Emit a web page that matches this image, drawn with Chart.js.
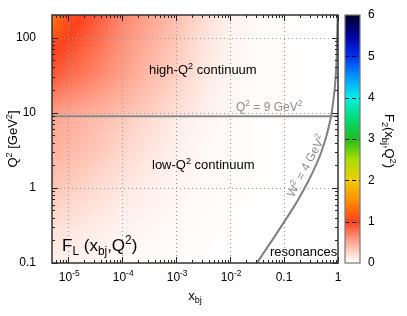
<!DOCTYPE html>
<html><head><meta charset="utf-8">
<script src="https://cdn.jsdelivr.net/npm/chart.js@4/dist/chart.umd.min.js"></script>
<style>html,body{margin:0;padding:0;background:#fff}#c{display:block}</style>
</head><body>
<canvas id="c" width="407" height="316"></canvas>
<script>
// ---- data ----
const xNodesLog = [-5.3, -5, -4.5, -4, -3.5, -3, -2.5, -2, -1.5, -1, -0.5, 0];
const q2NodesLog = [-1, -0.5, 0, 0.5, 0.954, 1, 1.5, 2, 2.3];
const flQ2_0p1  = [0.08, 0.07, 0.05, 0.03, 0.02, 0.01, 0.01, 0.00, 0, 0, 0, 0];
const flQ2_0p32 = [0.20, 0.17, 0.12, 0.08, 0.05, 0.03, 0.02, 0.01, 0, 0, 0, 0];
const flQ2_1    = [0.35, 0.30, 0.22, 0.15, 0.10, 0.06, 0.03, 0.02, 0.01, 0, 0, 0];
const flQ2_3p2  = [0.45, 0.42, 0.34, 0.25, 0.16, 0.09, 0.04, 0.02, 0.01, 0, 0, 0];
const flQ2_9    = [0.52, 0.48, 0.40, 0.32, 0.22, 0.12, 0.06, 0.03, 0.01, 0.01, 0, 0];
const flQ2_10   = [0.56, 0.52, 0.46, 0.38, 0.30, 0.20, 0.10, 0.04, 0.02, 0.01, 0, 0];
const flQ2_32   = [0.90, 0.80, 0.68, 0.54, 0.40, 0.28, 0.14, 0.05, 0.02, 0.01, 0, 0];
const flQ2_100  = [1.10, 1.00, 0.82, 0.62, 0.48, 0.34, 0.18, 0.07, 0.02, 0.01, 0, 0];
const flQ2_200  = [1.40, 1.10, 0.90, 0.68, 0.52, 0.38, 0.22, 0.08, 0.03, 0.01, 0, 0];
const flRows = [flQ2_0p1, flQ2_0p32, flQ2_1, flQ2_3p2, flQ2_9, flQ2_10, flQ2_32, flQ2_100, flQ2_200];

const xTickValues = [1e-5, 1e-4, 1e-3, 1e-2, 0.1, 1];
const xTickBase   = ['10', '10', '10', '10', '0.1', '1'];
const xTickExp    = ['-5', '-4', '-3', '-2', '', ''];
const yTickValues = [0.1, 1, 10, 100];
const yTickLabels = ['0.1', '1', '10', '100'];
const cbTickValues = [0, 1, 2, 3, 4, 5, 6];

const q2LineX = [5.01e-6, 1];
const q2LineY = [9, 9];
const w2CurveX = [0.0313, 0.04, 0.06, 0.1, 0.15, 0.2, 0.3, 0.4, 0.5, 0.6, 0.7, 0.8, 0.9, 0.95, 0.985];
const w2CurveY = [0.1, 0.13, 0.2, 0.35, 0.55, 0.78, 1.34, 2.08, 3.12, 4.7, 7.3, 12.5, 28, 59, 200];

// ---- helpers ----
const FONT = '"Liberation Sans", Arial, Helvetica, sans-serif';
const cmapStops = [
  [0, [255,255,255]], [0.25, [255,214,202]], [0.5, [255,168,148]], [0.75, [255,118,88]],
  [1, [255,66,30]], [1.5, [255,140,0]], [2, [240,205,0]], [2.5, [170,222,0]],
  [3, [30,190,30]], [3.5, [0,220,120]], [4, [0,240,230]], [4.5, [0,150,255]],
  [5, [0,50,240]], [5.5, [0,0,160]], [6, [0,0,40]]
];
function cmap(v){
  if (v <= 0) return cmapStops[0][1];
  for (let i = 0; i < cmapStops.length - 1; i++){
    const a = cmapStops[i], b = cmapStops[i+1];
    if (v <= b[0]){
      const t = (v - a[0]) / (b[0] - a[0]);
      return [0,1,2].map(k => a[1][k] + t*(b[1][k]-a[1][k]));
    }
  }
  return cmapStops[cmapStops.length-1][1];
}
function findIdx(arr, v){
  if (v <= arr[0]) return [0, 0];
  if (v >= arr[arr.length-1]) return [arr.length-2, 1];
  for (let i = 0; i < arr.length-1; i++){
    if (v <= arr[i+1]) return [i, (v-arr[i])/(arr[i+1]-arr[i])];
  }
}
function fieldAt(lx, lq){
  const [i, tx] = findIdx(xNodesLog, lx);
  const [j, tq] = findIdx(q2NodesLog, lq);
  const a = flRows[j][i], b = flRows[j][i+1], c = flRows[j+1][i], d = flRows[j+1][i+1];
  return (a*(1-tx)+b*tx)*(1-tq) + (c*(1-tx)+d*tx)*tq;
}
function richWidth(ctx, segs, size){
  let w = 0;
  for (const s of segs){
    const fs = s.s ? size*0.7 : size;
    ctx.font = fs + 'px ' + FONT;
    w += ctx.measureText(s.t).width;
  }
  return w;
}
function drawRich(ctx, segs, x, y, size, color, align){
  const w = richWidth(ctx, segs, size);
  let cx = align === 'center' ? x - w/2 : (align === 'right' ? x - w : x);
  ctx.fillStyle = color;
  ctx.textBaseline = 'alphabetic';
  ctx.textAlign = 'left';
  for (const s of segs){
    const fs = s.s ? size*0.7 : size;
    ctx.font = fs + 'px ' + FONT;
    const dy = s.s === 'sup' ? -size*0.42 : (s.s === 'sub' ? size*0.25 : 0);
    ctx.fillText(s.t, cx, y + dy);
    cx += ctx.measureText(s.t).width;
  }
}

const heatmapPlugin = {
  id: 'heatmap',
  beforeDatasetsDraw(chart){
    const ctx = chart.ctx, xs = chart.scales.x, ys = chart.scales.y;
    const L = Math.round(chart.chartArea.left), T = Math.round(chart.chartArea.top);
    const R = Math.round(chart.chartArea.right), B = Math.round(chart.chartArea.bottom);
    const w = R - L, h = B - T;
    const img = ctx.createImageData(w, h);
    for (let py = 0; py < h; py++){
      const lq = Math.log10(ys.getValueForPixel(T + py + 0.5));
      for (let px = 0; px < w; px++){
        const lx = Math.log10(xs.getValueForPixel(L + px + 0.5));
        const c = cmap(fieldAt(lx, lq));
        const o = (py*w + px)*4;
        img.data[o] = c[0]; img.data[o+1] = c[1]; img.data[o+2] = c[2]; img.data[o+3] = 255;
      }
    }
    ctx.putImageData(img, L, T);
    ctx.save();
    ctx.strokeStyle = '#9a9a9a'; ctx.lineWidth = 1; ctx.setLineDash([1, 3]);
    for (const v of xTickValues){
      const p = Math.round(xs.getPixelForValue(v)) + 0.5;
      if (p < L + 2 || p > R - 2) continue;
      ctx.beginPath(); ctx.moveTo(p, T); ctx.lineTo(p, B); ctx.stroke();
    }
    for (const v of yTickValues){
      const p = Math.round(ys.getPixelForValue(v)) + 0.5;
      if (p < T + 2 || p > B - 2) continue;
      ctx.beginPath(); ctx.moveTo(L, p); ctx.lineTo(R, p); ctx.stroke();
    }
    ctx.restore();
  },
  afterDatasetsDraw(chart){
    const ctx = chart.ctx, xs = chart.scales.x, ys = chart.scales.y, cb = chart.scales.cb;
    const {left:L, right:R, top:T, bottom:B} = chart.chartArea;
    ctx.save();
    ctx.strokeStyle = '#222'; ctx.lineWidth = 1;
    const xmin = xs.min, xmax = xs.max, ymin = ys.min, ymax = ys.max;
    for (let d = -6; d <= 0; d++){
      for (let m = 1; m <= 9; m++){
        const v = m * Math.pow(10, d);
        if (v < xmin || v > xmax) continue;
        const p = Math.round(xs.getPixelForValue(v)) + 0.5;
        const len = m === 1 ? 6 : 3;
        ctx.beginPath(); ctx.moveTo(p, B); ctx.lineTo(p, B - len); ctx.stroke();
        ctx.beginPath(); ctx.moveTo(p, T); ctx.lineTo(p, T + len); ctx.stroke();
      }
    }
    for (let d = -1; d <= 2; d++){
      for (let m = 1; m <= 9; m++){
        const v = m * Math.pow(10, d);
        if (v < ymin || v > ymax) continue;
        const p = Math.round(ys.getPixelForValue(v)) + 0.5;
        const len = m === 1 ? 6 : 3;
        ctx.beginPath(); ctx.moveTo(L, p); ctx.lineTo(L + len, p); ctx.stroke();
        ctx.beginPath(); ctx.moveTo(R, p); ctx.lineTo(R - len, p); ctx.stroke();
      }
    }
    ctx.strokeStyle = '#333'; ctx.lineWidth = 1.5;
    ctx.strokeRect(L, T, R - L, B - T);

    xTickValues.forEach((v, i) => {
      const p = xs.getPixelForValue(v);
      const segs = [{t: xTickBase[i]}];
      if (xTickExp[i]) segs.push({t: xTickExp[i], s: 'sup'});
      const wBase = richWidth(ctx, [{t: xTickBase[i]}], 12);
      const wAll = richWidth(ctx, segs, 12);
      const startX = xTickExp[i] ? p - wAll/2 + 1 : p - wBase/2;
      drawRich(ctx, segs, startX, 281, 12, '#000', 'left');
    });

    const cx0 = 345, cx1 = 360;
    const y0 = cb.getPixelForValue(0), y6 = cb.getPixelForValue(6);
    for (let y = Math.floor(y6); y < Math.ceil(y0); y++){
      const v = cb.getValueForPixel(y + 0.5);
      const c = cmap(v);
      ctx.fillStyle = 'rgb(' + c.map(Math.round).join(',') + ')';
      ctx.fillRect(cx0, y, cx1 - cx0, 1);
    }
    ctx.strokeStyle = '#000'; ctx.lineWidth = 1; ctx.setLineDash([4, 3]);
    for (const v of cbTickValues){
      if (v === 0 || v === 6) continue;
      const p = Math.round(cb.getPixelForValue(v)) + 0.5;
      ctx.beginPath(); ctx.moveTo(cx0, p); ctx.lineTo(cx1, p); ctx.stroke();
    }
    ctx.setLineDash([]);
    ctx.strokeStyle = '#777'; ctx.lineWidth = 1.2;
    ctx.strokeRect(cx0, y6, cx1 - cx0, y0 - y6);

    drawRich(ctx, [{t:'high-Q'},{t:'2',s:'sup'},{t:' continuum'}], 149, 74, 13, '#000', 'left');
    drawRich(ctx, [{t:'low-Q'},{t:'2',s:'sup'},{t:' continuum'}], 152, 169, 13, '#000', 'left');
    drawRich(ctx, [{t:'Q'},{t:'2',s:'sup'},{t:' = 9 GeV'},{t:'2',s:'sup'}], 236, 111, 12, '#8c8c8c', 'left');
    drawRich(ctx, [{t:'resonances'}], 270, 256, 13, '#000', 'left');
    drawRich(ctx, [{t:'F'},{t:'L',s:'sub'},{t:' (x'},{t:'bj',s:'sub'},{t:',Q'},{t:'2',s:'sup'},{t:')'}], 62, 251, 17, '#000', 'left');
    drawRich(ctx, [{t:'x'},{t:'bj',s:'sub'}], 195, 300, 13, '#000', 'center');
    ctx.save(); ctx.translate(306, 166); ctx.rotate(-62 * Math.PI/180);
    drawRich(ctx, [{t:'W'},{t:'2',s:'sup'},{t:' = 4 GeV'},{t:'2',s:'sup'}], 0, 4, 12, '#8c8c8c', 'center');
    ctx.restore();
    ctx.save(); ctx.translate(17, 139); ctx.rotate(-Math.PI/2);
    drawRich(ctx, [{t:'Q'},{t:'2',s:'sup'},{t:' [GeV'},{t:'2',s:'sup'},{t:']'}], 0, 0, 13, '#000', 'center');
    ctx.restore();
    ctx.save(); ctx.translate(385, 141); ctx.rotate(Math.PI/2);
    drawRich(ctx, [{t:'F'},{t:'2',s:'sub'},{t:'(x'},{t:'bj',s:'sub'},{t:',Q'},{t:'2',s:'sup'},{t:')'}], 0, 0, 13, '#000', 'center');
    ctx.restore();
    ctx.restore();
  }
};

function zeroPad(s){ s.paddingTop = 0; s.paddingBottom = 0; s.paddingLeft = 0; s.paddingRight = 0; }

new Chart(document.getElementById('c'), {
  type: 'scatter',
  data: {
    datasets: [
      { data: q2LineX.map((x, i) => ({x, y: q2LineY[i]})), showLine: true, borderColor: '#888', borderWidth: 2, pointRadius: 0 },
      { data: w2CurveX.map((x, i) => ({x, y: w2CurveY[i]})), showLine: true, borderColor: '#808080', borderWidth: 2, pointRadius: 0, cubicInterpolationMode: 'monotone' }
    ]
  },
  options: {
    responsive: false, animation: false, devicePixelRatio: 1,
    layout: { padding: { top: 15, left: 0, right: 0, bottom: 0 } },
    plugins: { legend: { display: false }, tooltip: { enabled: false }, title: { display: false } },
    scales: {
      x: {
        type: 'logarithmic', min: 5.01e-6, max: 1, position: 'bottom',
        grid: { display: false }, border: { display: false },
        ticks: { display: false },
        afterBuildTicks: s => { s.ticks = xTickValues.map(v => ({value: v})); },
        afterFit: s => { s.height = 53; zeroPad(s); }
      },
      y: {
        type: 'logarithmic', min: 0.1, max: 199.5, position: 'left',
        grid: { display: false }, border: { display: false },
        ticks: { color: '#000', padding: 8, font: { family: FONT, size: 12 },
                 callback: (v) => { const i = yTickValues.findIndex(t => Math.abs(t - v) / t < 1e-6); return i >= 0 ? yTickLabels[i] : ''; } },
        afterBuildTicks: s => { s.ticks = yTickValues.map(v => ({value: v})); },
        afterFit: s => { s.width = 52; zeroPad(s); }
      },
      cb: {
        type: 'linear', min: 0, max: 6, position: 'right',
        grid: { display: false, drawTicks: false }, border: { display: false },
        ticks: { color: '#000', padding: 30, stepSize: 1, font: { family: FONT, size: 12 } },
        afterBuildTicks: s => { s.ticks = cbTickValues.map(v => ({value: v})); },
        afterFit: s => { s.width = 69; zeroPad(s); }
      }
    }
  },
  plugins: [heatmapPlugin]
});
</script>
</body></html>
